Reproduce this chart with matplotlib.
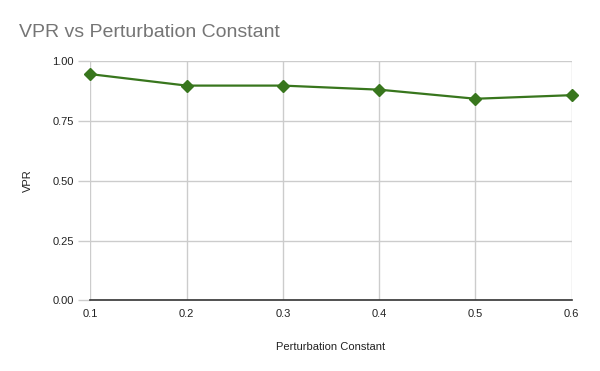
import matplotlib.pyplot as plt

plt.rcParams['font.family'] = ['Liberation Sans', 'DejaVu Sans']

# data
pert_const = [0.1, 0.2, 0.3, 0.4, 0.5, 0.6]
vpr = [0.946, 0.898, 0.898, 0.881, 0.843, 0.858]
y_ticks = [0.0, 0.25, 0.5, 0.75, 1.0]
x_ticks = [0.1, 0.2, 0.3, 0.4, 0.5, 0.6]

fig = plt.figure(figsize=(6, 3.71), dpi=100)
ax = fig.add_axes([0.1505, 0.1906, 0.8025, 0.6444])

ax.plot(pert_const, vpr, color='#38761d', linewidth=1.6,
        marker='D', markersize=6.5, clip_on=False, zorder=3)

ax.set_xlim(0.1, 0.6)
ax.set_ylim(0, 1.0)
ax.set_xticks(x_ticks)
ax.set_xticklabels([f'{v:.1f}' for v in x_ticks])
ax.set_yticks(y_ticks)
ax.set_yticklabels([f'{v:.2f}' for v in y_ticks])

ax.grid(True, color='#cccccc', linewidth=1)
for s in ['top', 'right', 'left']:
    ax.spines[s].set_visible(False)
ax.spines['bottom'].set_color('#333333')
ax.spines['bottom'].set_linewidth(1.2)
ax.tick_params(axis='y', length=9, color='#cccccc', width=1, labelsize=8,
               labelcolor='#222222', pad=3)
ax.tick_params(axis='x', length=0, labelsize=8, labelcolor='#222222', pad=6)

ax.set_xlabel('Perturbation Constant', fontsize=8, color='#222222', labelpad=17)
ax.set_ylabel('VPR', fontsize=8, color='#222222', labelpad=14)

fig.text(19 / 600, 1 - 37 / 371, 'VPR vs Perturbation Constant', fontsize=14,
         color='#757575', ha='left', va='baseline')

fig.savefig('out.png', dpi=100)
